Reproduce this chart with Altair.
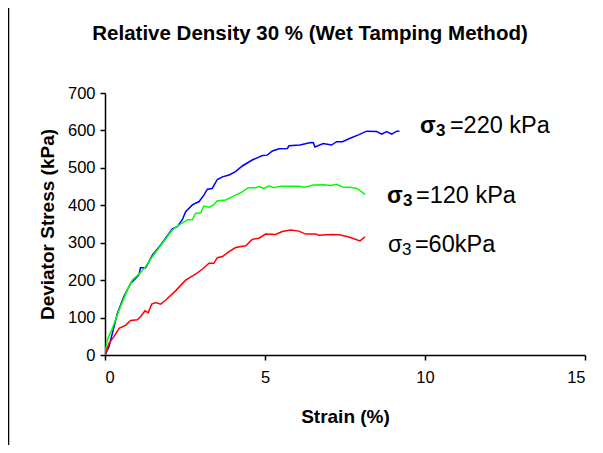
import altair as alt
import pandas as pd

# Blue: sigma3 = 220 kPa
strain_220 = [0, 0.125, 0.385, 0.59, 0.80, 1.06, 1.11, 1.27, 1.48, 1.74, 2.0, 2.1, 2.26, 2.42, 2.52,
              2.73, 2.94, 3.09, 3.2, 3.35, 3.51, 3.67, 3.875, 4.08, 4.29, 4.6, 4.92, 5.07, 5.23, 5.44,
              5.7, 5.75, 6.09, 6.43, 6.51, 6.56, 6.82, 7.08, 7.24, 7.42, 7.66, 7.92, 8.18, 8.49, 8.65,
              8.8, 8.96, 9.12, 9.2]
stress_220 = [0, 22, 111, 156, 191, 214, 233, 233, 267, 294, 325, 337, 343, 362, 383,
              401, 410, 427, 443, 445, 469, 476, 481, 490, 505, 521, 533, 534, 545, 551,
              552, 559, 561, 568, 567, 556, 565, 561, 570, 570, 579, 588, 598, 597, 590,
              597, 590, 598, 598]

# Green: sigma3 = 120 kPa
strain_120 = [0, 0.07, 0.23, 0.44, 0.7, 0.85, 1.11, 1.27, 1.48, 1.79, 2.1, 2.31, 2.57, 2.73, 2.83,
              2.99, 3.09, 3.25, 3.4, 3.51, 3.77, 4.08, 4.29, 4.48, 4.71, 4.81, 4.97, 5.125, 5.28, 5.49,
              6.06, 6.22, 6.375, 6.51, 6.82, 7.05, 7.24, 7.45, 7.66, 7.87, 8.02, 8.125]
stress_120 = [0, 40, 71, 120, 174, 200, 220, 236, 263, 298, 334, 347, 361, 362, 378,
              380, 398, 395, 401, 412, 414, 427, 436, 447, 447, 450, 445, 452, 447, 451,
              451, 448, 451, 454, 455, 453, 456, 448, 448, 445, 436, 429]

# Red: sigma3 = 60 kPa
strain_60 = [0, 0.125, 0.28, 0.44, 0.65, 0.8, 1.01, 1.11, 1.25, 1.35, 1.46, 1.58, 1.74, 1.9, 2.21,
             2.52, 2.83, 3.04, 3.25, 3.4, 3.51, 3.67, 3.875, 4.08, 4.4, 4.6, 4.81, 5.02, 5.33, 5.54,
             5.8, 6.06, 6.27, 6.58, 6.69, 6.9, 7.1, 7.31, 7.6, 7.97, 8.125]
stress_60 = [0, 31, 49, 71, 80, 92, 94, 102, 118, 113, 136, 140, 136, 147, 172,
             200, 216, 229, 245, 245, 260, 263, 276, 287, 292, 309, 312, 323, 322, 330,
             334, 331, 323, 323, 320, 321, 322, 321, 316, 305, 316]

series_names = ["220", "120", "60"]
series_colors = ["#0000FF", "#00FF00", "#FF0000"]

x_ticks = [0, 5, 10, 15]
y_ticks = [0, 100, 200, 300, 400, 500, 600, 700]

title_text = "Relative Density 30 % (Wet Tamping Method)"

# Annotation labels: "σ" + subscript "3" + rest
label_rest = ["=220 kPa", "=120 kPa", "=60kPa"]
label_bold = [True, True, False]
label_x = [9.84, 8.81, 8.84]
label_y = [593, 406, 276]
label_rest_dx = [30, 29, 27]

rows = []
for name, xs, ys in [("220", strain_220, stress_220), ("120", strain_120, stress_120), ("60", strain_60, stress_60)]:
    for i, (sx, sy) in enumerate(zip(xs, ys)):
        rows.append({"series": name, "strain": sx, "stress": sy, "order": i})
df = pd.DataFrame(rows)

font = "Liberation Sans"
xscale = alt.Scale(domain=[0, 15], nice=False)
yscale = alt.Scale(domain=[0, 700], nice=False)
xaxis = alt.Axis(values=x_ticks, title="Strain (%)", grid=False, labelOverlap=False,
                 labelPadding=9, titlePadding=22)
yaxis = alt.Axis(values=y_ticks, title="Deviator Stress (kPa)", grid=False, labelOverlap=False,
                 labelPadding=5, titlePadding=10)
x_enc = alt.X("strain:Q", scale=xscale, axis=xaxis)
y_enc = alt.Y("stress:Q", scale=yscale, axis=yaxis)

lines = alt.Chart(df).mark_line(strokeWidth=1.5, clip=True).encode(
    x=x_enc, y=y_enc,
    color=alt.Color("series:N", scale=alt.Scale(domain=series_names, range=series_colors), legend=None),
    order="order:Q",
)

layers = [lines]
for i in range(3):
    d = pd.DataFrame({"strain": [label_x[i]], "stress": [label_y[i]], "sym": ["σ"], "sub": ["3"],
                      "rest": [label_rest[i]]})
    w = "bold" if label_bold[i] else "normal"
    base = alt.Chart(d).encode(x=x_enc, y=y_enc)
    layers.append(base.mark_text(align="left", baseline="alphabetic", font=font, fontSize=23,
                                 fontWeight=w, color="black").encode(text="sym:N"))
    layers.append(base.mark_text(align="left", baseline="alphabetic", font=font, fontSize=17,
                                 fontWeight=w, color="black", dx=16 if label_bold[i] else 14, dy=3
                                 ).encode(text="sub:N"))
    layers.append(base.mark_text(align="left", baseline="alphabetic", font=font, fontSize=23.5,
                                 color="black", dx=label_rest_dx[i]).encode(text="rest:N"))

title = alt.Chart(pd.DataFrame({"t": [title_text]})).mark_text(
    align="center", baseline="alphabetic", font=font, fontSize=20.5, fontWeight="bold", color="black"
).encode(x=alt.value(205), y=alt.value(-53), text="t:N")
layers.append(title)

frame = alt.Chart(pd.DataFrame({"a": [0]})).mark_rule(color="black", strokeWidth=1.5, clip=False).encode(
    x=alt.value(-96.5), y=alt.value(-85), y2=alt.value(352)
)
layers.append(frame)

chart = alt.layer(*layers).properties(
    width=480, height=262,
    padding={"left": 97, "top": 85, "right": 10, "bottom": 90},
    autosize=alt.AutoSizeParams(type="none"),
).configure_view(stroke=None).configure_axis(
    domainColor="black", domainWidth=1.5, tickColor="black", tickWidth=1.5, tickSize=5,
    labelFont=font, labelFontSize=16.5, labelColor="black",
    titleFont=font, titleFontSize=19, titleFontWeight="bold", titleColor="black",
)

chart.save("out.html", embed_options={"renderer": "svg", "actions": False})
